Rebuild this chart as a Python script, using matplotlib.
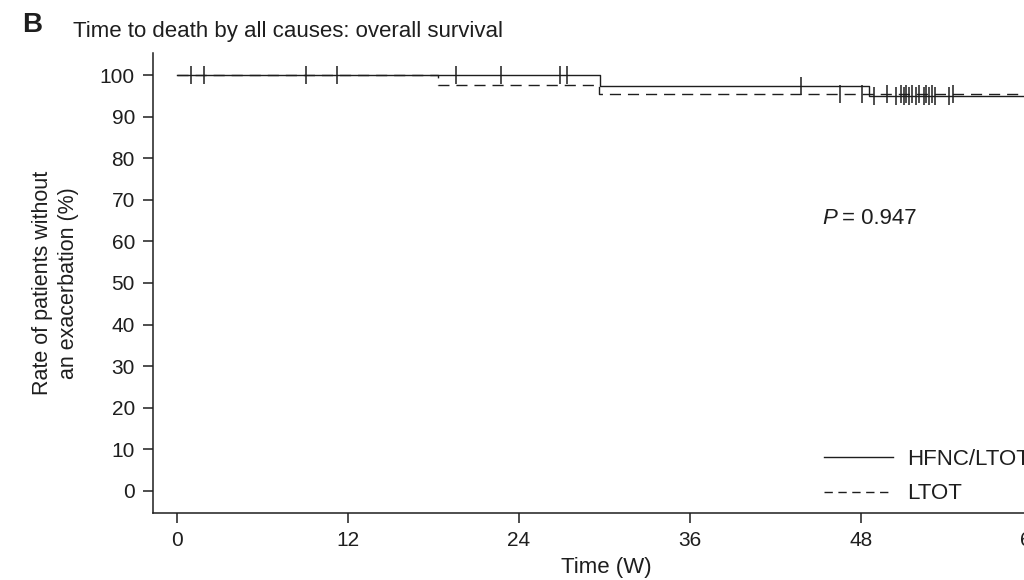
import numpy as np
import matplotlib
matplotlib.use('Agg')
import matplotlib.pyplot as plt

plt.rcParams['font.family'] = ['Liberation Sans', 'DejaVu Sans']

# Kaplan-Meier steps (weeks, % without event)
hfnc_times = [0, 29.7, 48.6, 60]
hfnc_surv = [100, 97.4, 95.0, 95.0]
ltot_times = [0, 18.3, 29.6, 60]
ltot_surv = [100, 97.6, 95.4, 95.4]

# censored observations
hfnc_cens = [1.0, 1.9, 9.05, 11.2, 19.6, 22.7, 26.9, 27.4, 43.8, 48.9,
             50.5, 51.0, 51.4, 51.9, 52.4, 52.8, 53.2, 54.2]
ltot_cens = [46.5, 48.1, 49.8, 50.8, 51.2, 51.6, 52.1, 52.6, 53.0, 54.5]

x_ticks = [0, 12, 24, 36, 48, 60]
y_ticks = list(range(0, 101, 10))
p_text = '= 0.947'


def surv_at(times, surv, t):
    i = np.searchsorted(times, t, side='right') - 1
    return np.asarray(surv)[i]


fig = plt.figure(figsize=(10.24, 5.8), dpi=100)
ax = fig.add_axes([153 / 1024, 67 / 580, 0.886, 460 / 580])
col = '#1e1e1e'

ln, = ax.step(ltot_times, ltot_surv, where='post', color=col, lw=1.0,
              label='LTOT', zorder=2)
ln.set_dashes((8, 5))
ax.step(hfnc_times, hfnc_surv, where='post', color=col, lw=1.0,
        label='HFNC/LTOT', zorder=3)

ax.plot(hfnc_cens, surv_at(hfnc_times, hfnc_surv, hfnc_cens), ls='none',
        marker='|', ms=13, mew=1.1, color=col, zorder=3)
ax.plot(ltot_cens, surv_at(ltot_times, ltot_surv, ltot_cens), ls='none',
        marker='|', ms=13, mew=1.1, color=col, zorder=3)

ax.set_xlim(-1.7, 62)
ax.set_ylim(-5.3, 105.3)
ax.set_xticks(x_ticks)
ax.set_yticks(y_ticks)
ax.tick_params(labelsize=15, length=7, width=1.1, pad=6, colors=col)
for s in ['top', 'right']:
    ax.spines[s].set_visible(False)
for s in ['left', 'bottom']:
    ax.spines[s].set_linewidth(1.1)
    ax.spines[s].set_color(col)

ax.set_xlabel('Time (W)', fontsize=16, color=col, labelpad=5)
ax.set_ylabel('Rate of patients without\nan exacerbation (%)', fontsize=15.5,
              color=col, labelpad=15, linespacing=1.3)

ax.text(45.3, 65.6, 'P', fontsize=16, style='italic', va='center', color=col)
ax.text(46.7, 65.6, p_text, fontsize=16, va='center', color=col)

handles, labels = ax.get_legend_handles_labels()
leg = ax.legend(handles[::-1], labels[::-1], loc='upper left',
                bbox_to_anchor=(804 / 1024, 1 - 429 / 580),
                bbox_transform=fig.transFigure, frameon=False, fontsize=16,
                handlelength=3.1, handletextpad=0.65, labelspacing=0.6)
for t in leg.get_texts():
    t.set_color(col)
leg.get_lines()[1].set_dashes((6, 4))

fig.text(22 / 1024, 1 - 32 / 580, 'B', fontsize=20, fontweight='bold',
         color=col)
fig.text(73 / 1024, 1 - 37 / 580, 'Time to death by all causes: overall survival',
         fontsize=16, color=col)

plt.savefig('out.png', dpi=100)
